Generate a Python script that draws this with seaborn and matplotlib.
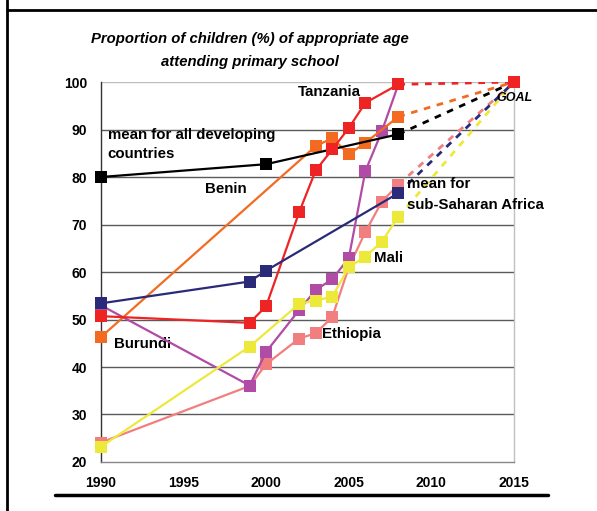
import matplotlib
matplotlib.use("Agg")
import matplotlib.pyplot as plt
import pandas as pd
import seaborn as sns
from matplotlib.lines import Line2D

sns.set_style("white")
plt.rcParams["font.family"] = ["Liberation Sans", "DejaVu Sans"]
plt.rcParams["text.color"] = "black"
plt.rcParams["xtick.labelcolor"] = "black"
plt.rcParams["ytick.labelcolor"] = "black"

# Data
developing_years = [1990, 2000, 2008]
developing_vals = [80.0, 82.7, 89.0]

tanzania_years = [1990, 1999, 2000, 2002, 2003, 2004, 2005, 2006, 2008]
tanzania_vals = [50.7, 49.3, 52.8, 72.6, 81.4, 85.8, 90.3, 95.6, 99.5]

benin_years = [1990, 2003, 2004, 2005, 2006, 2008]
benin_vals = [46.3, 86.5, 88.2, 84.8, 87.2, 92.7]

burundi_years = [1990, 1999, 2000, 2002, 2003, 2004, 2005, 2006, 2007, 2008]
burundi_vals = [53.0, 36.1, 43.2, 52.0, 56.2, 58.5, 62.9, 81.2, 89.6, 99.5]

ethiopia_years = [1990, 1999, 2000, 2002, 2003, 2004, 2005, 2006, 2007, 2008]
ethiopia_vals = [24.1, 36.0, 40.6, 46.0, 47.1, 50.5, 61.0, 68.4, 74.8, 78.4]

mali_years = [1990, 1999, 2002, 2003, 2004, 2005, 2006, 2007, 2008]
mali_vals = [23.2, 44.3, 53.3, 54.0, 54.8, 61.0, 63.2, 66.4, 71.6]

ssa_years = [1990, 1999, 2000, 2008]
ssa_vals = [53.4, 58.0, 60.3, 76.6]

goal_year = 2015
goal_val = 100

colors = {
    "Ethiopia": "#f27f7f",
    "Burundi": "#b04ca6",
    "Benin": "#f36b21",
    "developing": "#000000",
    "Tanzania": "#ee2424",
    "Mali": "#ede93b",
    "sub-Saharan": "#2a2a78",
}

series = [
    ("Ethiopia", ethiopia_years, ethiopia_vals),
    ("Burundi", burundi_years, burundi_vals),
    ("Benin", benin_years, benin_vals),
    ("developing", developing_years, developing_vals),
    ("Tanzania", tanzania_years, tanzania_vals),
    ("Mali", mali_years, mali_vals),
    ("sub-Saharan", ssa_years, ssa_vals),
]

fig = plt.figure(figsize=(5.97, 5.11), dpi=100)
ax = fig.add_axes([0.169, 0.0959, 0.692, 0.7436])

# horizontal grid lines
for yv in range(30, 100, 10):
    ax.axhline(yv, color="#5a5a5a", lw=1.0, zorder=0)
ax.axhline(100, color="#bdbdbd", lw=1.0, zorder=0)

# dashed projections to the 2015 goal
for name, yrs, vals in series:
    if name == "Burundi":
        continue
    proj = pd.DataFrame({"year": [yrs[-1], goal_year], "value": [vals[-1], goal_val]})
    sns.lineplot(data=proj, x="year", y="value", ax=ax, color=colors[name],
                 lw=2, linestyle=(0, (2.4, 2.4)), zorder=2)

# observed series
for i, (name, yrs, vals) in enumerate(series):
    df = pd.DataFrame({"year": yrs, "value": vals})
    sns.lineplot(data=df, x="year", y="value", ax=ax, color=colors[name],
                 lw=1.6, marker="s", markersize=9, markeredgewidth=0,
                 clip_on=False, zorder=3 + i)

# goal marker
ax.plot([goal_year], [goal_val], marker="s", markersize=9, color="#ee2424",
        markeredgewidth=0, clip_on=False, zorder=12)

ax.set_xlim(1990, 2015)
ax.set_ylim(20, 100)
ax.set_xticks(range(1990, 2016, 5))
ax.set_yticks(range(20, 101, 10))
ax.set_xlabel("")
ax.set_ylabel("")
ax.tick_params(axis="both", labelsize=10, length=4, width=1, pad=6)
ax.tick_params(axis="x", colors="#888888", labelcolor="black")
ax.tick_params(axis="y", colors="#333333", labelcolor="black")
for lab in ax.get_xticklabels() + ax.get_yticklabels():
    lab.set_fontweight("bold")

ax.spines["top"].set_visible(False)
ax.spines["left"].set_color("#333333")
ax.spines["bottom"].set_color("#888888")
ax.spines["right"].set_color("#c0c0c0")
for sp in ax.spines.values():
    sp.set_linewidth(1.0)

# labels
lbl = dict(fontsize=10.8, fontweight="bold", va="center", ha="left")
ax.text(2001.9, 98.0, "Tanzania", **lbl)
ax.text(1990.4, 88.9, "mean for all developing", **lbl)
ax.text(1990.4, 84.8, "countries", **lbl)
ax.text(1996.3, 77.5, "Benin", **lbl)
ax.text(1990.8, 44.8, "Burundi", **lbl)
ax.text(2003.4, 47.0, "Ethiopia", **lbl)
ax.text(2006.5, 62.9, "Mali", **lbl)
ax.text(2008.5, 78.5, "mean for", **lbl)
ax.text(2008.5, 74.2, "sub-Saharan Africa", **lbl)
ax.text(2015.0, 96.6, "GOAL", fontsize=9, fontweight="bold", style="italic",
        ha="center", va="center")

fig.text(250 / 597, 1 - 39 / 511, "Proportion of children (%) of appropriate age",
         ha="center", va="center", fontsize=10.7, style="italic", fontweight="bold")
fig.text(250 / 597, 1 - 62 / 511, "attending primary school",
         ha="center", va="center", fontsize=10.7, style="italic", fontweight="bold")

# page frame lines
fig.add_artist(Line2D([7 / 597, 7 / 597], [0, 1], color="black", lw=2, transform=fig.transFigure))
fig.add_artist(Line2D([7 / 597, 1], [1 - 10 / 511, 1 - 10 / 511], color="black", lw=2,
                      transform=fig.transFigure))
fig.add_artist(Line2D([55 / 597, 548 / 597], [1 - 495 / 511, 1 - 495 / 511], color="black",
                      lw=2.5, transform=fig.transFigure))

fig.savefig("out.png", dpi=100)
